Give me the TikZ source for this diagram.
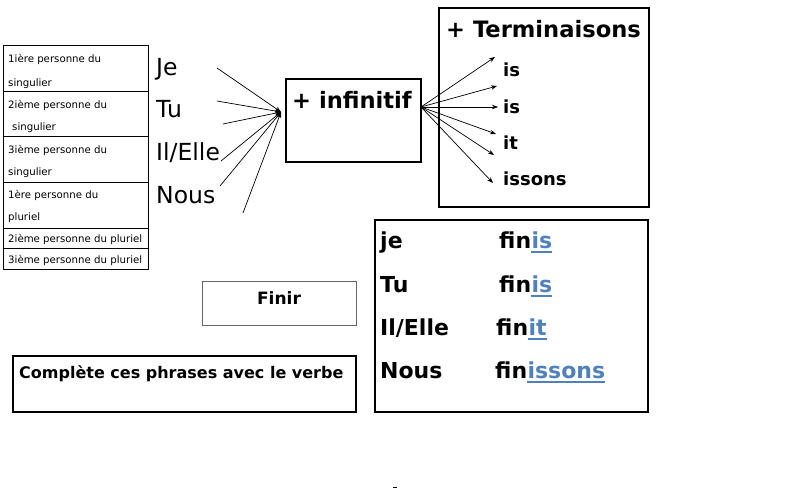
\documentclass[tikz,border=0pt]{standalone}
\usepackage{fontspec}
\setmainfont{DejaVu Sans}
\usetikzlibrary{arrows.meta}
\definecolor{endblue}{RGB}{79,129,189}
\begin{document}
\begin{tikzpicture}[x=1pt,y=-1pt,
  tabline/.style={draw=black, line width=0.8pt},
  smalltxt/.style={anchor=base west, inner sep=0pt, font=\fontsize{10.2}{12}\selectfont},
  bigtxt/.style={anchor=base west, inner sep=0pt, font=\fontsize{23.5}{27}\selectfont},
  bigbold/.style={anchor=base west, inner sep=0pt, font=\bfseries\fontsize{22.6}{26}\selectfont},
  conjbold/.style={anchor=base west, inner sep=0pt, font=\bfseries\fontsize{22}{26}\selectfont},
  endlab/.style={anchor=base west, inner sep=0pt, font=\bfseries\fontsize{18}{22}\selectfont},
  endtxt/.style={anchor=base west, inner sep=0pt, text=endblue, font=\bfseries\fontsize{22}{26}\selectfont},
  ulline/.style={draw=endblue, line width=2pt},
  boxline/.style={draw=black, line width=2pt},
  arr/.style={-{Stealth[length=6pt,width=4.5pt]}, line width=0.7pt}]
\useasboundingbox (0,0) rectangle (795,490);

% table of persons
\draw[tabline] (3,45) rectangle (148,269);
\foreach \yy in {91,136,182,228,248} \draw[tabline] (3,\yy) -- (148,\yy);
\node[smalltxt] (r1a) at (8,62) {1ière personne du};
\node[smalltxt] (r1b) at (8,86) {singulier};
\node[smalltxt] (r2a) at (8,108) {2ième personne du};
\node[smalltxt] (r2b) at (12,130) {singulier};
\node[smalltxt] (r3a) at (8,153) {3ième personne du};
\node[smalltxt] (r3b) at (8,175) {singulier};
\node[smalltxt] (r4a) at (8,198) {1ère personne du};
\node[smalltxt] (r4b) at (8,220) {pluriel};
\node[smalltxt] (r5) at (8,242) {2ième personne du pluriel};
\node[smalltxt] (r6) at (8,263) {3ième personne du pluriel};

% pronouns
\node[bigtxt] (je) at (156,75) {Je};
\node[bigtxt] (tu) at (156,117) {Tu};
\node[bigtxt] (il) at (156,160) {Il/Elle};
\node[bigtxt] (nous) at (156,203) {Nous};

% arrows into hub
\coordinate (hub) at (281,112);
\coordinate (s1) at (217,68);
\coordinate (s2) at (217,101);
\coordinate (s3) at (223,124);
\coordinate (s4) at (221,161);
\coordinate (s5) at (220,186);
\coordinate (s6) at (243,213);
\foreach \s in {s1,s2,s3,s4,s5,s6} \draw[arr] (\s) -- (hub);

% infinitif box
\draw[boxline] (286,79) rectangle (421,162);
\node[bigbold] (inf) at (292,108) {+ infinitif};

% terminaisons box
\draw[boxline] (439,8) rectangle (649,207);
\node[bigbold] (term) at (446,37) {+ Terminaisons};
\node[endlab] (t1) at (503,76) {is};
\node[endlab] (t2) at (503,113) {is};
\node[endlab] (t3) at (503,149) {it};
\node[endlab] (t4) at (503,185) {issons};

\coordinate (src) at (421,107);
\coordinate (e1) at (495,57);
\coordinate (e2) at (497,86);
\coordinate (e3) at (498,107);
\coordinate (e4) at (496,134);
\coordinate (e5) at (494,155);
\coordinate (e6) at (493,183);
\foreach \e in {e1,e2,e3,e4,e5,e6} \draw[arr] (src) -- (\e);

% conjugation box
\draw[boxline, line width=2.5pt] (375,220) rectangle (648,412);
\node[conjbold] (cje) at (380,248) {je};
\node[conjbold] (ctu) at (380,292) {Tu};
\node[conjbold] (cil) at (380,335) {Il/Elle};
\node[conjbold] (cnous) at (380,378) {Nous};
\node[conjbold] (f1) at (499,248) {fin};
\node[endtxt] (g1) at (f1.base east) {is};
\node[conjbold] (f2) at (499,292) {fin};
\node[endtxt] (g2) at (f2.base east) {is};
\node[conjbold] (f3) at (496,335) {fin};
\node[endtxt] (g3) at (f3.base east) {it};
\node[conjbold] (f4) at (495,378) {fin};
\node[endtxt] (g4) at (f4.base east) {issons};
\foreach \g in {g1,g2,g3,g4}
  \draw[ulline] ([yshift=-4pt]\g.base west) -- ([yshift=-4pt]\g.base east);

% Finir box
\draw[draw=black!60, line width=1pt] (202,281) rectangle (356,325);
\node[anchor=base, inner sep=0pt, font=\bfseries\fontsize{17}{20}\selectfont] (finir) at (279,304) {Finir};

% instruction box
\draw[boxline] (13,356) rectangle (356,412);
\node[anchor=base west, inner sep=0pt, font=\bfseries\fontsize{16}{19}\selectfont] (instr) at (19,378) {Complète ces phrases avec le verbe};

% tiny stray mark
\draw[line width=1pt] (393,487) -- (397,487);
\end{tikzpicture}
\end{document}
